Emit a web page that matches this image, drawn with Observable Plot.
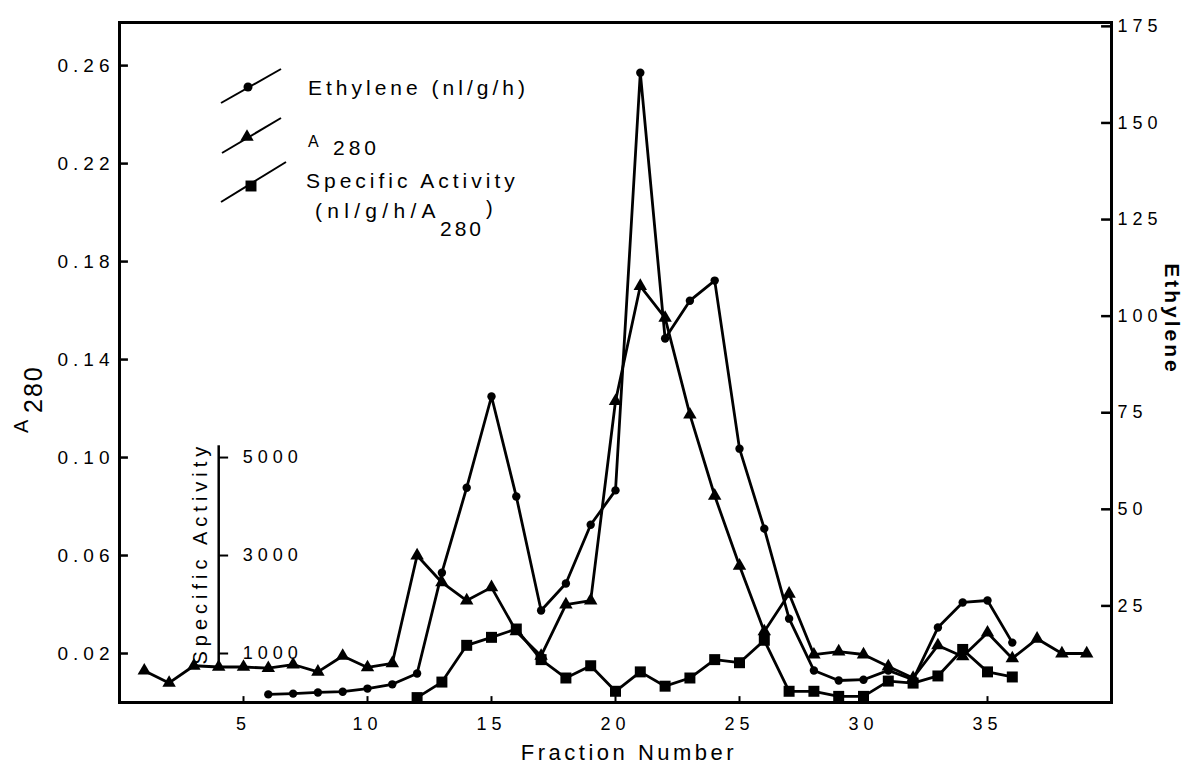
<!DOCTYPE html>
<html><head><meta charset="utf-8">
<script src="https://cdn.jsdelivr.net/npm/d3@7"></script>
<script src="https://cdn.jsdelivr.net/npm/@observablehq/plot@0.6"></script>
<style>
html,body{margin:0;padding:0;background:#fff;}
#wrap{position:relative;width:1189px;height:770px;}
#overlay{position:absolute;left:0;top:0;pointer-events:none;}
</style></head><body><div id="wrap"></div>
<script>
// ---- data ----
const a280Fractions = [1,2,3,4,5,6,7,8,9,10,11,12,13,14,15,16,17,18,19,20,21,22,23,24,25,26,27,28,29,30,31,32,33,34,35,36,37,38,39];
const a280 = [0.013,0.008,0.015,0.0145,0.0145,0.014,0.0155,0.0125,0.019,0.0143,0.016,0.060,0.049,0.0416,0.047,0.029,0.019,0.040,0.0416,0.123,0.170,0.157,0.1175,0.0844,0.0558,0.029,0.0444,0.0195,0.0208,0.0196,0.0147,0.010,0.0233,0.0188,0.0285,0.018,0.026,0.020,0.020];

const ethFractions = [6,7,8,9,10,11,12,13,14,15,16,17,18,19,20,21,22,23,24,25,26,27,28,29,30,31,32,33,34,35,36];
const ethylene = [2.1,2.3,2.6,2.8,3.6,4.7,7.5,33.6,55.6,79.2,53.3,23.8,30.8,46,54.9,163,94.2,104,109.2,65.7,45,21.7,8.3,5.7,5.9,8.3,5.9,19.4,25.9,26.4,15.5];

const saFractions = [12,13,14,15,16,17,18,19,20,21,22,23,24,25,26,27,28,29,30,31,32,33,34,35,36];
const specificActivity = [100,417,1167,1330,1500,875,500,750,229,625,333,500,875,812,1270,229,229,125,125,437,396,542,1083,625,521];

const xTicks = [5,10,15,20,25,30,35];
const leftTicks = [0.02,0.06,0.10,0.14,0.18,0.22,0.26];
const rightTicks = [25,50,75,100,125,150,175];
const saTicks = [1000,3000,5000];

// ---- scale set-up (all series share one y scale in A280 units) ----
const yMax = 0.2776, ethMax = 176;
const ethK = yMax / ethMax;     // ethylene -> A280 units
const saK = 0.00002;            // specific activity -> A280 units
const insetX = 4;               // fraction where the inset specific-activity axis sits
const xMax = 40;
const FONT = "'Liberation Sans', Arial, Helvetica, sans-serif";

const rows = (xs, vs, k) => xs.map((f, i) => ({f, v: vs[i] * k}));
const a280Data = rows(a280Fractions, a280, 1);
const ethData = rows(ethFractions, ethylene, ethK);
const saData = rows(saFractions, specificActivity, saK);

const plot = Plot.plot({
  width: 1189, height: 770,
  marginLeft: 119, marginRight: 78, marginTop: 22, marginBottom: 68,
  style: {fontFamily: FONT, fontSize: "19px", letterSpacing: "5px", color: "black", background: "white"},
  x: {domain: [0, xMax], axis: null},
  y: {domain: [0, yMax], axis: null},
  marks: [
    Plot.axisX(xTicks, {anchor: "bottom", label: null, tickSize: 0, tickPadding: 15, fontSize: 18, tickFormat: d => String(d)}),
    Plot.axisY(leftTicks, {anchor: "left", label: null, tickSize: 0, tickPadding: 5, fontSize: 19, tickFormat: d => d.toFixed(2)}),
    Plot.axisY(rightTicks.map(e => e * ethK), {anchor: "right", label: null, tickSize: 0, tickPadding: 6, fontSize: 18, tickFormat: d => String(Math.round(d / ethK))}),
    // inward tick marks
    Plot.ruleX(xTicks, {x: d => d, y1: 0, y2: 0.0024, stroke: "black", strokeWidth: 2}),
    Plot.ruleY(leftTicks, {y: d => d, x1: 0, x2: 0.36, stroke: "black", strokeWidth: 2.5}),
    Plot.ruleY(rightTicks, {y: d => d * ethK, x1: xMax - 0.4, x2: xMax, stroke: "black", strokeWidth: 2.5}),
    // inset specific-activity axis
    Plot.ruleX([insetX], {x: d => d, y1: 730 * saK, y2: 5240 * saK, stroke: "black", strokeWidth: 2.5}),
    Plot.ruleY(saTicks, {y: d => d * saK, x1: insetX, x2: insetX + 0.4, stroke: "black", strokeWidth: 2}),
    Plot.text(saTicks, {x: insetX, y: d => d * saK, text: d => String(d), textAnchor: "start", dx: 24, fontSize: 18}),
    Plot.text(["Specific Activity"], {x: insetX, y: 3050 * saK, text: d => d, rotate: -90, dx: -18, fontSize: 20}),
    // series
    Plot.line(ethData, {x: "f", y: "v", stroke: "black", strokeWidth: 2.8}),
    Plot.dot(ethData, {x: "f", y: "v", r: 4.2, fill: "black", stroke: "none"}),
    Plot.line(a280Data, {x: "f", y: "v", stroke: "black", strokeWidth: 2.8}),
    Plot.dot(a280Data, {x: "f", y: "v", symbol: "triangle", r: 5, fill: "black", stroke: "none"}),
    Plot.line(saData, {x: "f", y: "v", stroke: "black", strokeWidth: 2.8}),
    Plot.dot(saData, {x: "f", y: "v", symbol: "square", r: 6.2, fill: "black", stroke: "none"}),
    Plot.frame({stroke: "black", strokeWidth: 3})
  ]
});
document.getElementById("wrap").appendChild(plot);

// ---- overlay: legend and axis titles ----
const ov = d3.select("#wrap").append("svg").attr("id", "overlay")
  .attr("width", 1189).attr("height", 770)
  .style("font-family", FONT).attr("fill", "black");

const legendKeys = [
  {x1: 221, y1: 103, x2: 281, y2: 69, mx: 248, my: 87, sym: d3.symbolCircle, size: 64},
  {x1: 222, y1: 153, x2: 281, y2: 118, mx: 247, my: 137, sym: d3.symbolTriangle, size: 78},
  {x1: 221, y1: 202, x2: 286, y2: 162, mx: 251, my: 186, sym: d3.symbolSquare, size: 120}
];
for (const k of legendKeys) {
  ov.append("line").attr("x1", k.x1).attr("y1", k.y1).attr("x2", k.x2).attr("y2", k.y2)
    .attr("stroke", "black").attr("stroke-width", 2);
  ov.append("path").attr("d", d3.symbol(k.sym, k.size)())
    .attr("transform", `translate(${k.mx},${k.my})`).attr("fill", "black");
}
function txt(x, y, s, size, ls, extra = {}) {
  const t = ov.append("text").attr("x", x).attr("y", y).text(s)
    .attr("font-size", size).attr("letter-spacing", ls);
  for (const [a, v] of Object.entries(extra)) t.attr(a, v);
  return t;
}
txt(308, 95, "Ethylene (nl/g/h)", 21, 4);
txt(308, 147, "A", 16, 0);
txt(333, 155, "280", 21, 4);
txt(306, 188, "Specific Activity", 21, 4);
txt(315, 218, "(nl/g/h/A", 21, 5.3);
txt(440, 236, "280", 21, 3);
txt(486, 215, ")", 20, 0);

// left axis title "A 280"
txt(0, 0, "A", 20, 0, {transform: "translate(28,433) rotate(-90)"});
txt(0, 0, "280", 25, 2, {transform: "translate(42,413) rotate(-90)"});
// right axis title
txt(0, 0, "Ethylene", 21, 3, {transform: "translate(1165,319) rotate(90)", "text-anchor": "middle", "font-weight": "bold"});
// x axis title
txt(629, 760, "Fraction Number", 22, 3.5, {"text-anchor": "middle"});
</script>
</body></html>
